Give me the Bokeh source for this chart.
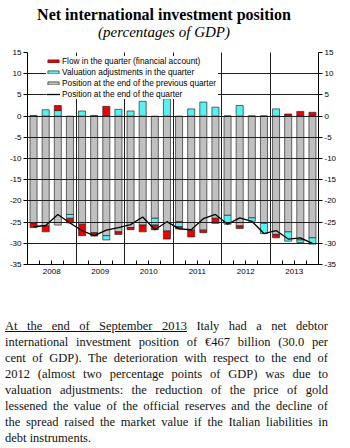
import numpy as np
from bokeh.plotting import figure
from bokeh.models import (Range1d, FixedTicker, LinearAxis, Legend, LegendItem, Div)
from bokeh.layouts import column
from bokeh.embed import file_html
from bokeh.resources import INLINE

# ---------------- data (percentages of GDP), 24 quarters 2008-2013 ----------------
years = ["2008", "2009", "2010", "2011", "2012", "2013"]
prev_position = [-25.3, -25.9, -25.7, -23.2, -25.5, -27.5,
                 -28.2, -27.3, -26.3, -25.7, -24.1, -27.1,
                 -24.9, -26.9, -26.9, -24.1, -23.4, -25.9,
                 -24.0, -25.3, -27.9, -27.3, -29.2, -28.7]
flow = [-1.0, -1.4, 1.2, -1.1, -2.7, -0.8,
        2.3, -0.6, -0.5, -1.6, -1.1, -1.9,
        -0.5, -1.6, -0.6, -1.2, 0.0, -0.6,
        0.0, 0.0, -0.8, 0.5, 1.1, 0.9]
valuation = [0.15, 1.5, 1.3, -0.9, 1.2, 0.15,
             -1.0, 1.6, 1.2, 3.5, -1.6, 4.1,
             -1.2, 1.7, 3.3, 2.1, -2.1, 2.5,
             -0.8, -2.4, 1.7, -2.2, -0.6, -1.5]
end_position = [-26.1, -25.8, -23.2, -25.2, -27.0, -28.2,
                -26.9, -26.3, -25.6, -23.8, -26.8, -24.9,
                -26.6, -26.8, -24.2, -23.2, -25.5, -24.0,
                -24.8, -27.7, -27.0, -29.0, -28.7, -30.0]
y_ticks = [-35, -30, -25, -20, -15, -10, -5, 0, 5, 10, 15]

title_text = "Net international investment position"
subtitle_text = "(percentages of GDP)"
legend_labels = ["Flow in the quarter (financial account)",
                 "Valuation adjustments in the quarter",
                 "Position at the end of the previous quarter",
                 "Position at the end of the quarter"]

# ---------------- stacking (positives up from 0, negatives down from bar) ----------------
n = len(prev_position)
x = np.arange(n)
prev = np.array(prev_position)
fl = np.array(flow)
va = np.array(valuation)

val_bottom = np.where(va >= 0, 0.0, prev + va)
val_top = np.where(va >= 0, va, prev)
pos_base = np.maximum(va, 0.0)
neg_base = prev + np.minimum(va, 0.0)
flow_bottom = np.where(fl >= 0, pos_base, neg_base + fl)
flow_top = np.where(fl >= 0, pos_base + fl, neg_base)

GRAY = "#C0C0C0"
CYAN = "#55F2F2"
RED = "#F00000"
OUTLINE = "#2a2a2a"
SANS = "Liberation Sans"
SERIF = "Liberation Serif"

# ---------------- title block ----------------
title_html = ('<div style="font-family:\'Liberation Serif\';color:#000;text-align:center;'
              'width:339px;padding:5px 11px 0 0;margin:0;">'
              '<div style="font-weight:bold;font-size:16px;line-height:19px;">%s</div>'
              '<div style="font-style:italic;font-size:15px;line-height:16px;">%s</div>'
              '</div>') % (title_text, subtitle_text)
title_div = Div(text=title_html, width=350, height=44, margin=(0, 0, 0, 0))

p = figure(width=350, height=256,
           x_range=Range1d(-0.5, n - 0.5), y_range=Range1d(-35, 15),
           output_backend="svg", toolbar_location=None,
           min_border_left=27, min_border_right=32, min_border_top=8, min_border_bottom=36)
p.outline_line_color = None
p.background_fill_color = "white"

bw = 0.58
r_gray = p.vbar(x=x, width=bw, top=0, bottom=prev, fill_color=GRAY,
                line_color=OUTLINE, line_width=0.7)
r_val = p.vbar(x=x, width=bw, top=val_top, bottom=val_bottom, fill_color=CYAN,
               line_color=OUTLINE, line_width=0.7)
r_flow = p.vbar(x=x, width=bw, top=flow_top, bottom=flow_bottom, fill_color=RED,
                line_color=OUTLINE, line_width=0.7)
r_line = p.line(x=x, y=end_position, line_color="black", line_width=1.3)

# ---------------- axes ----------------
overrides = {t: str(t) for t in y_ticks}
p.yaxis.ticker = FixedTicker(ticks=y_ticks)
p.yaxis.major_label_overrides = overrides
right = LinearAxis(ticker=FixedTicker(ticks=y_ticks), major_label_overrides=overrides)
p.add_layout(right, "right")
for ax in [p.yaxis[0], right]:
    ax.major_tick_out = 4
    ax.major_tick_in = 0
    ax.minor_tick_out = 0
    ax.minor_tick_in = 0
    ax.major_label_standoff = 2
    ax.axis_line_color = "black"
    ax.major_tick_line_color = "black"
    ax.major_label_text_font = SANS
    ax.major_label_text_font_size = "8px"
    ax.major_label_text_color = "black"

year_centers = [4 * i + 1.5 for i in range(len(years))]
minor = [4 * i + k + 0.5 for i in range(len(years)) for k in range(3)]
xa = p.xaxis[0]
xa.ticker = FixedTicker(ticks=year_centers, minor_ticks=minor)
xa.major_label_overrides = {c: y for c, y in zip(year_centers, years)}
xa.major_tick_in = 0
xa.major_tick_out = 0
xa.minor_tick_in = 4
xa.minor_tick_out = 0
xa.minor_tick_line_color = "black"
xa.axis_line_color = "black"
xa.major_label_standoff = 4
xa.major_label_text_font = SANS
xa.major_label_text_font_size = "8px"
xa.major_label_text_color = "black"

# ---------------- grids (drawn over the bars, under the legend) ----------------
p.ygrid.ticker = FixedTicker(ticks=y_ticks[1:-1])
p.xgrid.ticker = FixedTicker(ticks=[4 * i + 3.5 for i in range(len(years) - 1)])
for g in [p.xgrid[0], p.ygrid[0]]:
    g.grid_line_color = "#1e1e1e"
    g.grid_line_width = 1
    g.level = "annotation"

# ---------------- legend ----------------
legend = Legend(items=[LegendItem(label=legend_labels[0], renderers=[r_flow]),
                       LegendItem(label=legend_labels[1], renderers=[r_val]),
                       LegendItem(label=legend_labels[2], renderers=[r_gray]),
                       LegendItem(label=legend_labels[3], renderers=[r_line])],
                location=(19, 165), padding=1, margin=0, spacing=1,
                glyph_width=14, glyph_height=4, label_height=10, label_width=156,
                label_standoff=2, label_text_font=SANS, label_text_font_size="8.3px",
                label_text_color="black", label_text_baseline="middle",
                background_fill_color="white", background_fill_alpha=1.0,
                border_line_color=None)
p.add_layout(legend)

# ---------------- paragraph ----------------
text_lines = ["<u>At the end of September 2013</u> Italy had a net debtor",
              "international investment position of \u20ac467 billion (30.0 per",
              "cent of GDP). The deterioration with respect to the end of",
              "2012 (almost two percentage points of GDP) was due to",
              "valuation adjustments: the reduction of the price of gold",
              "lessened the value of the official reserves and the decline of",
              "the spread raised the market value if the Italian liabilities in",
              "debt instruments."]
html_lines = []
for i, t in enumerate(text_lines):
    if i < len(text_lines) - 1:
        html_lines.append('<div style="text-align:justify;text-align-last:justify;">%s</div>' % t)
    else:
        html_lines.append('<div style="text-align:left;">%s</div>' % t)
html = ('<div style="font-family:\'Liberation Serif\';font-size:12.5px;line-height:16px;'
        'color:#111;width:328px;padding:18px 0 0 5px;margin:0;">' + "".join(html_lines) + '</div>')
div = Div(text=html, width=350, height=148, margin=(0, 0, 0, 0))

layout = column(title_div, p, div, spacing=0)
open("out.html", "w").write(file_html(layout, INLINE))
